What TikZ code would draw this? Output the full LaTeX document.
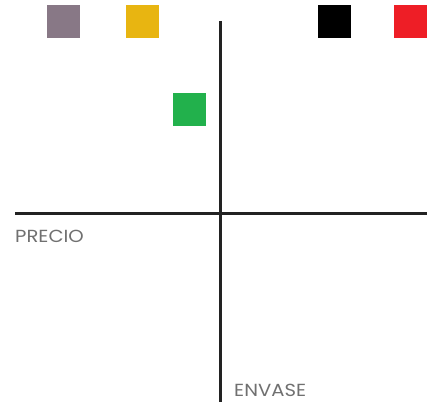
\documentclass[tikz,border=0pt]{standalone}
\usepackage{fontspec}
\setmainfont{Poppins}
\usetikzlibrary{positioning}
\definecolor{mauve}{HTML}{887886}
\definecolor{mustard}{HTML}{E8B511}
\definecolor{signalred}{HTML}{EE1E26}
\definecolor{leaf}{HTML}{22B14C}
\definecolor{axisgray}{HTML}{222222}
\definecolor{labelgray}{HTML}{707070}
\tikzset{
  swatch/.style={minimum size=33pt,inner sep=0pt,outer sep=0pt},
  axis/.style={line width=2.2pt,color=axisgray},
  axislabel/.style={font=\fontsize{17.5}{17.5}\selectfont,text=labelgray,inner sep=0pt,anchor=base west,xscale=1.12,transform shape},
}

\begin{document}
\begin{tikzpicture}[x=1pt,y=1pt]
  \useasboundingbox (0,0) rectangle (427,405);
  % color swatches
  \node[swatch,fill=mauve] (mauvesq) at (63.5,383.5) {};
  \node[swatch,fill=mustard,right=46pt of mauvesq] (mustardsq) {};
  \node[swatch,fill=black] (blacksq) at (334.5,383.5) {};
  \node[swatch,fill=signalred,right=43pt of blacksq] (redsq) {};
  \node[swatch,fill=leaf] (leafsq) at (189.5,295.5) {};
  % axes
  \coordinate (vtop) at (220.5,384);
  \coordinate (vbot) at (220.5,3);
  \coordinate (hleft) at (15,191.5);
  \coordinate (hright) at (427,191.5);
  \draw[axis] (vtop) -- (vbot);
  \draw[axis] (hleft) -- (hright);
  \node[axislabel] (precio) at (15,163) {PRECIO};
  \node[axislabel] (envase) at (234,9) {ENVASE};
\end{tikzpicture}
\end{document}
